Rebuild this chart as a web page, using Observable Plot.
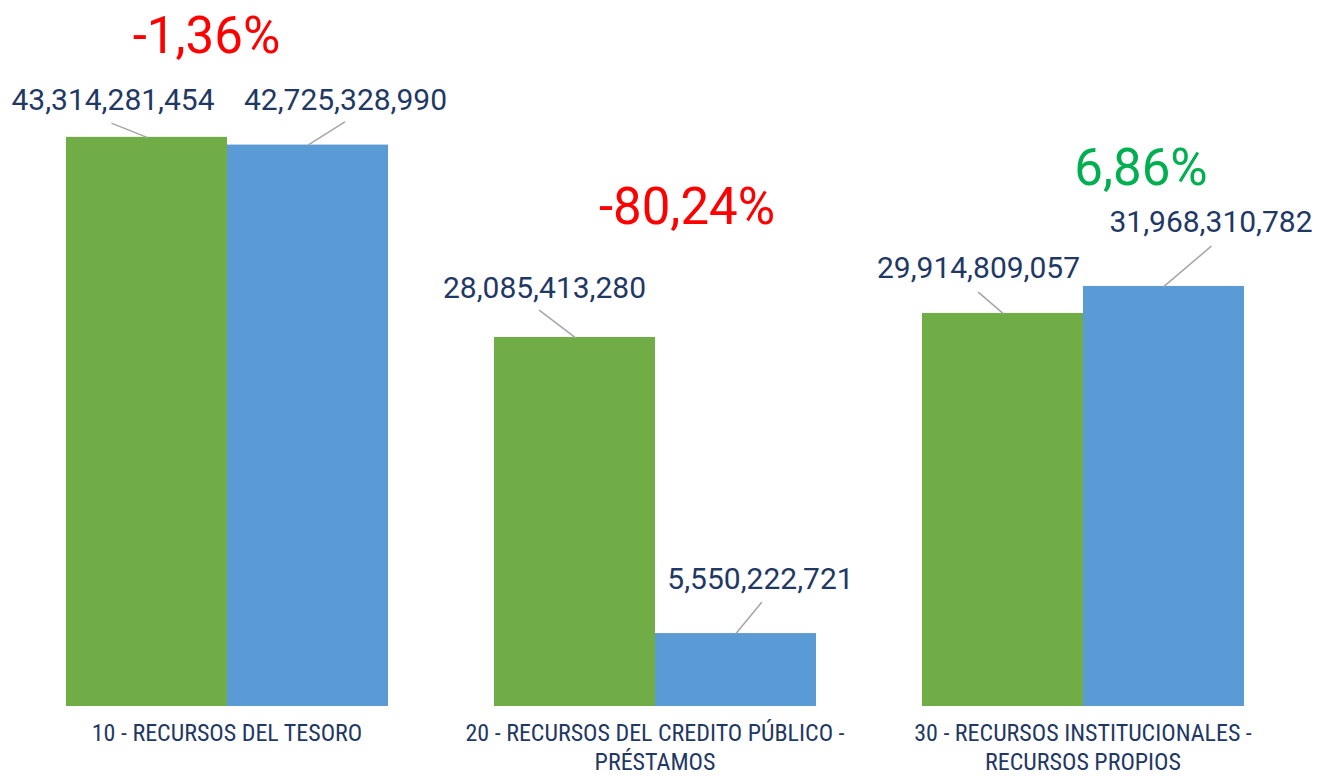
<!DOCTYPE html>
<html>
<head>
<meta charset="utf-8">
<script src="https://cdn.jsdelivr.net/npm/d3@7"></script>
<script src="https://cdn.jsdelivr.net/npm/@observablehq/plot@0.6"></script>
<style>
  html, body { margin: 0; padding: 0; background: #ffffff; }
  #chart { width: 1317px; height: 776px; overflow: hidden; }
</style>
</head>
<body>
<div id="chart"></div>
<script>
// ---- data ----
const categories = [
  "10 - RECURSOS DEL TESORO",
  "20 - RECURSOS DEL CREDITO PÚBLICO - PRÉSTAMOS",
  "30 - RECURSOS INSTITUCIONALES - RECURSOS PROPIOS"
];
const categoryLabels = [
  "10 - RECURSOS DEL TESORO",
  "20 - RECURSOS DEL CREDITO PÚBLICO -\nPRÉSTAMOS",
  "30 - RECURSOS INSTITUCIONALES -\nRECURSOS PROPIOS"
];
const seriesNames = ["Serie 1", "Serie 2"];
const series1Values = [43314281454, 28085413280, 29914809057];
const series2Values = [42725328990, 5550222721, 31968310782];
const changeLabels = ["-1,36%", "-80,24%", "6,86%"];
const changeValues = [-1.36, -80.24, 6.86];

// ---- layout (pixel offsets of labels, not data) ----
const valueLabelOffsets = [[-34, -27], [37.5, -35], [-30.5, -39], [24.5, -45], [-24.5, -35], [47, -54]];
const leaderEnds = [[-35, -14], [36.5, -23], [-35.5, -27], [25.5, -31], [-24.5, -21], [47, -40]];
const changeOffsets = [[-20.5, -84], [32, -113], [58, -101]];

const seriesColors = ["#70AD47", "#5B9BD5"];
const navy = "#1F3864";

const rows = [];
categories.forEach((c, i) => {
  rows.push({category: c, series: seriesNames[0], value: series1Values[i]});
  rows.push({category: c, series: seriesNames[1], value: series2Values[i]});
});

const fmt = d3.format(",");
const lineShape = {
  draw(context, l) { context.moveTo(0, 0); context.lineTo(0, -l); }
};

const marks = [
  Plot.barY(rows, {fx: "category", x: "series", y: "value", fill: "series", inset: 0})
];

rows.forEach((r, i) => {
  const [ldx, ldy] = leaderEnds[i];
  const len = Math.hypot(ldx, ldy);
  const rot = Math.atan2(ldx, -ldy) * 180 / Math.PI;
  marks.push(Plot.vector([r], {
    fx: "category", x: "series", y: "value",
    length: len, rotate: rot, anchor: "start", shape: lineShape,
    stroke: "#A6A6A6", strokeWidth: 1.5
  }));
  const [tdx, tdy] = valueLabelOffsets[i];
  marks.push(Plot.text([r], {
    fx: "category", x: "series", y: "value",
    text: d => fmt(d.value), dx: tdx, dy: tdy,
    lineAnchor: "bottom", textAnchor: "middle",
    fill: navy, fontSize: 30, fontWeight: 400, fontFamily: "Roboto"
  }));
});

categories.forEach((c, i) => {
  const [pdx, pdy] = changeOffsets[i];
  marks.push(Plot.text([i], {
    fx: d => categories[d],
    y: d => Math.max(series1Values[d], series2Values[d]),
    text: d => changeLabels[d],
    dx: pdx, dy: pdy,
    lineAnchor: "bottom", textAnchor: "middle",
    fill: changeValues[i] < 0 ? "#FF0000" : "#00B050",
    fontSize: 51, fontWeight: 400, fontFamily: "Roboto"
  }));
});

marks.push(Plot.text(categories, {
  fx: d => d,
  frameAnchor: "bottom",
  text: (d, i) => categoryLabels[i],
  lineAnchor: "top", textAnchor: "middle",
  dy: 14, lineHeight: 1.2,
  fill: navy, fontSize: 24,
  fontFamily: "'Liberation Sans Narrow', 'Arial Narrow', 'Roboto Condensed', 'DejaVu Sans Condensed', sans-serif"
}));

const chart = Plot.plot({
  width: 1317,
  height: 776,
  marginLeft: 8,
  marginRight: 16,
  marginTop: 49,
  marginBottom: 70,
  style: {background: "#ffffff", fontFamily: "Roboto", overflow: "visible"},
  fx: {domain: categories, paddingInner: 0.2453, paddingOuter: 0.132, axis: null, label: null},
  x: {domain: seriesNames, padding: 0, axis: null, label: null},
  y: {domain: [0, 50e9], axis: null, label: null},
  color: {domain: seriesNames, range: seriesColors},
  marks
});
document.getElementById("chart").appendChild(chart);
</script>
</body>
</html>
